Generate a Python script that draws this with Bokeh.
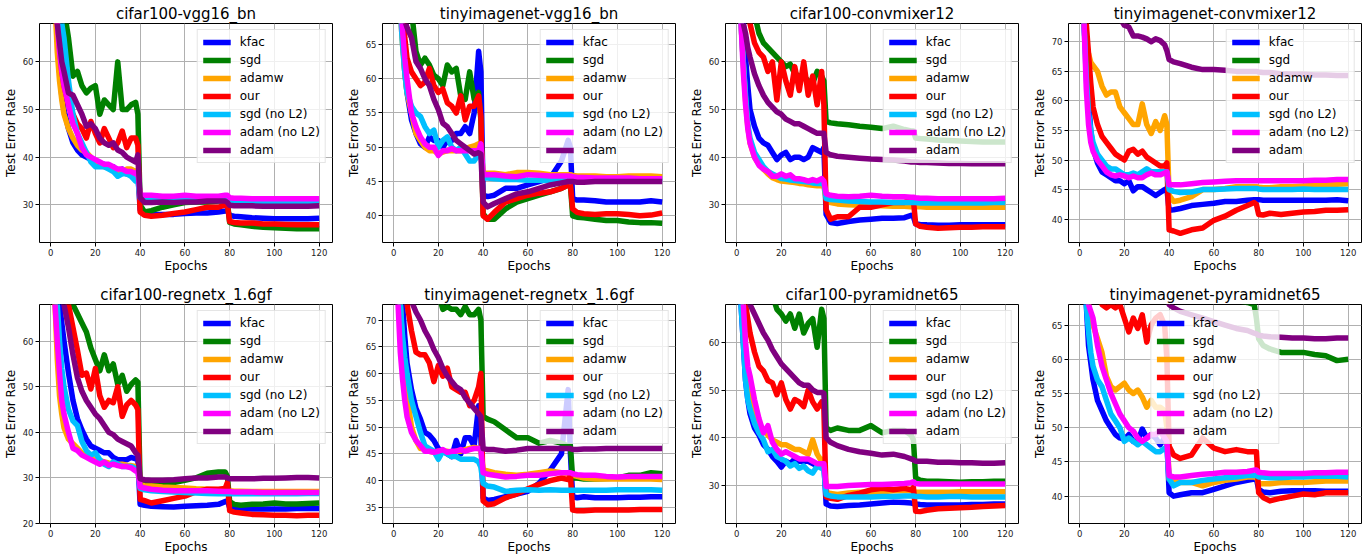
from math import nan
from bokeh.plotting import figure
from bokeh.models import Legend, LegendItem, Title
from bokeh.layouts import row, column
from bokeh.embed import file_html
from bokeh.resources import INLINE

# ---------------- data ----------------
epochs = [1, 2, 3, 4, 5, 6, 8, 10, 12, 14, 16, 18, 20, 22, 24, 26, 28, 30, 32, 34, 36, 38,
          39, 40, 42, 45, 50, 55, 60, 65, 70, 75, 78, 79, 80, 82, 85, 90, 95, 100, 105, 110, 115, 120]
series_names = ["kfac", "sgd", "adamw", "our", "sgd (no L2)", "adam (no L2)", "adam"]
x_ticks = [0, 20, 40, 60, 80, 100, 120]

titles = ["cifar100-vgg16_bn", "tinyimagenet-vgg16_bn", "cifar100-convmixer12", "tinyimagenet-convmixer12",
          "cifar100-regnetx_1.6gf", "tinyimagenet-regnetx_1.6gf", "cifar100-pyramidnet65", "tinyimagenet-pyramidnet65"]
y_ticks_1 = [30, 40, 50, 60]
y_ticks_2 = [40, 45, 50, 55, 60, 65]
y_ticks_3 = [30, 40, 50, 60]
y_ticks_4 = [40, 45, 50, 55, 60, 65, 70]
y_ticks_5 = [20, 30, 40, 50, 60]
y_ticks_6 = [35, 40, 45, 50, 55, 60, 65, 70]
y_ticks_7 = [30, 40, 50, 60]
y_ticks_8 = [40, 45, 50, 55, 60, 65]

# panel 1: cifar100-vgg16_bn
d1_kfac = [88,76,66,58,53,50, 46,43,41.5,40.5,40,39.5,39,38.5,38.5,38,38,37,37.5,36.5,36.5,37, 37,29, 28.3,28,28,28,28.2,28.3,28.3,28.5,28.7,28.8, 27.8,27.6,27.5,27.3,27.2,27.1,27.1,27.1,27.1,27.2]
d1_sgd = [95,90,85,80,75,71, 65,57,58,55,53.5,54.5,55,49,52,51,50,60,50,50,51,51.5, 49,30, 28.5,28.8,29.5,30,30.5,30.6,30.6,30.8,30.8,30.6, 26.3,26,25.8,25.5,25.3,25.2,25.1,25,25,25]
d1_adamw = [85,72,62,56,52,49, 46,44,42.5,41.5,41,40,38.5,38.5,38,38,37.5,37,37,37.5,37.5,37, 37,31.5, 31.2,31,31,31,31,31,31,31,31,31, 30.5,30.5,30.5,30.5,30.5,30.5,30.4,30.4,30.4,30.4]
d1_our = [90,80,70,63,58,55, 51,49,47,46,44,47.5,45,43,46,44,42,43,45.5,42,44,44, 42.5,28.5, 27.8,27.6,27.8,28.2,28.5,29,29.5,29.5,30,30, 26.5,26.3,26.2,26.2,26,26,25.9,25.8,25.8,25.8]
d1_sgdnl2 = [92,85,78,72,68,65, 56,49,45,43,41,39,38,38,38,37.5,37,36,36.5,36.5,36,35, 35,31.5, 31.2,31,31,31,31.2,31.2,31.2,31.2,31.2,31, 30.8,30.8,30.8,30.7,30.7,30.7,30.7,30.7,30.7,30.8]
d1_adamnl2 = [85,75,68,62,58,55, 51,47,45,42,40.5,40,39.5,39,38.5,38.5,38,37.5,37.5,37,37,36.5, 37,32, 32,32,31.8,31.8,32,31.8,31.8,31.8,32,32, 31.5,31.4,31.4,31.3,31.3,31.3,31.3,31.3,31.3,31.3]
d1_adam = [86,76,68,64,60,58, 53.5,53,51,49,46.5,47,46,44,43,42.5,43,41.5,41,40,39.5,39, 40.5,31.5, 30.5,30.5,30.6,30.5,30.6,30.6,30.8,30.8,30.8,30.5, 29.9,29.8,29.8,29.8,29.7,29.7,29.7,29.7,29.7,29.8]

# panel 2: tinyimagenet-vgg16_bn
d2_kfac = [90,80,72,66,61,58, 54,52,50.5,50,51.5,51,51,50,51,51,52,52,53,52,55,64, 61,43, 42.8,43,44,44,44.5,45,45.5,48,51,50, 42.5,42.3,42.3,42.2,42,42,42,42,42.2,42]
d2_sgd = [95,92,88,84,80,76, 70,64,62,63,62,60.5,60,59,62,61,61.5,57.5,57,61,57,58, 54,40.3, 39.5,39.5,41,42,42.5,43,43.5,44,44.5,44.5, 40,39.8,39.7,39.5,39.3,39.3,39.1,39,39,38.9]
d2_adamw = [88,78,70,65,61,58, 55,52,51,50,49.5,49.5,49,49.3,49.5,49.5,49.5,49.5,49.8,50,50.2,50.5, 50.5,46.2, 46.2,46.2,46,46.3,46.3,46.2,46,46,46,46, 45.9,45.8,45.8,45.8,45.7,45.7,45.8,45.8,45.8,45.7]
d2_our = [92,84,76,70,66,63, 61,60,59,59.5,61.5,59,58,58.5,56.5,56,55,57.5,54,56,56,57.5, 54.5,40, 39.5,40.5,42,42.5,43,43.3,43.5,44,44.5,44.5, 41,40.5,40.3,40.2,40.3,40.3,40.2,40,40.1,40.4]
d2_sgdnl2 = [88,78,70,65,61,58, 56,55,54.5,53,52,52.5,50,51,51.5,50,49.5,50,49,48,48,49, 49,45.5, 45.5,45.4,45.3,45.3,45.2,45.2,45.1,45.1,45.1,45, 45.5,45.5,45.5,45.4,45.4,45.4,45.3,45.3,45.3,45.3]
d2_adamnl2 = [89,80,72,67,63,60, 55,53,51.5,50.5,50,50,48.8,49.5,49.5,49.8,49.5,49.5,49.5,49.5,49.5,49.5, 50.5,46, 46,46,45.8,45.7,46,45.9,45.8,45.8,45.8,45.8, 45.7,45.6,45.6,45.5,45.5,45.5,45.5,45.4,45.4,45.4]
d2_adam = [92,85,78,72,68.5,67.5, 66,62.5,61.5,60,59,57,55.5,53.5,53,52,51,50.5,50,49.5,49,49.2, 49,42, 41.3,41.8,42.5,43.2,43.5,44,44.5,44.8,45,45, 45,44.9,44.9,45,45,45,45,45,45,45]

# panel 3: cifar100-convmixer12
d3_kfac = [90,78,68,61,55,50, 46.5,44,43,42.5,41,39.5,40.5,41,39.5,40,40,39.5,40,42,41.5,41, 42,28, 26.3,26.1,26.5,26.8,27,27.2,27.2,27.3,27.8,27.5, 26,25.9,25.8,25.7,25.7,25.8,25.8,25.8,25.8,25.8]
d3_sgd = [95,92,88,84,80,76, 70,66,64,63,62,61,60,59,59.5,57.5,57,57,56,55.5,58,57, 56,47.5, 47.2,47,46.8,46.5,46.3,46,46.5,45.8,45.5,45.5, 44,43.9,43.8,43.6,43.5,43.4,43.3,43.2,43.2,43.2]
d3_adamw = [85,68,60,52,46.5,43, 40,38.5,37.5,36.5,35.7,35.3,35,34.9,34.8,34.7,34.5,34.4,34.2,34.1,34,34, 34,31, 30.5,30.2,30,29.9,29.8,29.8,29.7,29.7,29.6,29.6, 29.6,29.6,29.5,29.5,29.5,29.5,29.5,29.5,29.5,29.5]
d3_our = [95,90,84,78,72,68, 64,62,61,58,60,52,60,56,53,59,54,60,53,57,51,58, 51,29, 27,27.5,27.5,29.5,29.5,30,30.5,30.5,31,31, 26,25.5,25.3,25.1,25.2,25.3,25.3,25.4,25.4,25.4]
d3_sgdnl2 = [85,68,60,53,47,44, 41,39.5,38,37,36.5,36,35.5,35.4,35.2,35.1,35,34.9,34.8,34.6,34.5,34.5, 34.5,31.3, 31.1,31,30.8,30.7,30.6,30.6,30.5,30.5,30.5,30.5, 30.5,30.4,30.4,30.4,30.4,30.4,30.4,30.4,30.5,30.5]
d3_adamnl2 = [85,68,58,51,46,43, 40,38.3,37.5,37,36,36,36.5,36,36.3,35.5,35.5,35.3,35,35.3,35,35.5, 35,32.3, 32,31.8,31.7,31.8,32,31.8,31.7,31.7,31.6,31.6, 31.5,31.4,31.4,31.3,31.3,31.3,31.3,31.3,31.3,31.4]
d3_adam = [88,76,68,66,63,61, 57.5,55,53,51.5,50.5,49.5,49,48,47.5,47,47,46.5,46,45.5,45,45, 45,41, 40.5,40.2,40,39.8,39.6,39.5,39.4,39.2,39,39, 39,38.9,38.9,38.8,38.7,38.7,38.6,38.6,38.6,38.6]

# panel 4: tinyimagenet-convmixer12 (sgd curve is not visible in the plotted range)
d4_kfac = [90,73,66,60,55,52, 49.5,48,47.5,47,46.5,46.5,46,46.5,44.8,45.5,45.5,45,44.5,44,44.5,45, 45.2,41.5, 41.6,41.8,42.3,42.5,42.7,43,43,43.2,43.3,43.3, 43.3,43.2,43.2,43.2,43.2,43.2,43.2,43.2,43.3,43.1]
d4_sgd = [nan] * len(epochs)
d4_adamw = [90,73,70,68,66.5,66, 65,62.5,61,61.5,61.5,59,58,57,56,56,59.5,56,54.5,56.5,55,57.5, 56,44, 43,43.2,43.8,45,45,45.2,45.5,45.5,45.5,45.5, 45.4,45.3,45.3,45.5,45.5,45.6,45.7,45.8,45.9,46]
d4_our = [95,85,73,68,63,59, 56,54,53,52,51,50.5,50,51.5,51.8,51,51.5,50.5,50,49.5,49,49, 49.5,38.2, 38,37.6,38.2,38.5,39.8,40.5,41.5,42.3,42.8,42.5, 40.8,40.7,41,40.8,41,41.2,41.3,41.5,41.5,41.6]
d4_sgdnl2 = [88,73,64,58,55,53, 51,50,49,48.5,48.5,48,47.5,47.5,47.8,47.5,48,48.5,48,48,48,48, 48,45, 44.7,44.5,44.6,45,45,45.1,45.2,45.2,45.2,45.2, 45.1,45,45,45,45,45.1,45,45,45,45]
d4_adamnl2 = [88,73,62,56,53,51.5, 50,49,48,47.5,47.3,47.5,47.3,47,47.3,47,47,47.5,47.8,47.5,47.5,47.8, 48,45.8, 45.8,45.8,46,46.2,46.3,46.4,46.5,46.5,46.5,46.5, 46.5,46.5,46.5,46.5,46.5,46.5,46.6,46.6,46.7,46.7]
d4_adam = [95,92,89,87,85,83.5, 81,79,77.5,76,75,74,72.8,72.5,71,71,70.8,70.5,70,70.5,70.2,69.5, 68.5,67, 66.6,66.3,65.7,65.3,65.3,65.2,65,65,65,65, 64.9,64.8,64.8,64.6,64.5,64.5,64.4,64.4,64.3,64.3]

# panel 5: cifar100-regnetx_1.6gf
d5_kfac = [90,82,74,68,64,60, 53,47,43,40.5,38.5,37,36.5,36,35.5,35.5,34.5,34,34,34,34.5,34.2, 34,24.2, 24,23.8,23.7,23.6,23.8,23.9,24,24.2,24.8,25, 23.5,23.4,23.3,23.2,23.2,23.2,23.2,23.3,23.3,23.3]
d5_sgd = [95,92,88,84,80,76, 72,68,66,64,62,58.5,56,53.5,57,53.5,55,50.5,52.5,49,50.5,51.5, 51,29, 28.5,28.6,28.7,29,29.5,30,31,31.3,31.3,30.3, 24.8,24.2,24,24.2,24.3,24.5,24.3,24.3,24.4,24.5]
d5_adamw = [85,68,56,48,44,41, 38.5,37.5,36.5,35.5,35,34.5,34,33.8,33.5,33.3,33.2,33,33,32.8,32.7,32.5, 32.5,28.5, 28.3,28.2,28,27.9,27.8,27.6,27.5,27.4,27.3,27.3, 27.2,27.1,27.1,27,27,27,27,27,27,27]
d5_our = [95,90,85,80,76,73, 68,63,58,52.5,53,49.5,54,48,45.5,47,46.5,50,43.5,46,47,46, 45,25.3, 25,24.5,25,25.5,26,27,27.5,27.5,27.7,29, 22.8,22.5,22.3,22,21.9,21.8,21.8,21.7,21.8,21.8]
d5_sgdnl2 = [88,76,68,60,54,50, 45,42.5,41.5,38,36,35,35.5,34,33,32.5,33.5,33,32.5,32.5,32.5,32, 32,27.7, 27.4,27.2,27,26.9,26.8,26.7,26.6,26.5,26.5,26.5, 26.5,26.5,26.5,26.5,26.5,26.5,26.5,26.5,26.6,26.6]
d5_adamnl2 = [85,68,60,53,47,44, 40,36.5,36,35,34.5,34,33.5,33,33.5,32.8,33,32.7,32.5,32.5,32.2,31.5, 31.5,28, 27.8,27.5,27.3,27.2,27.2,27.2,27.2,27.1,27,27, 27,26.9,26.9,26.9,26.8,26.8,26.8,26.8,26.8,26.8]
d5_adam = [92,85,80,76,72,68, 63,57,52,49,47,45.5,44,43,41.5,40,39.5,38.5,38,37.5,37,35.5, 35,29.8, 29.6,29.5,29.5,29.6,29.8,30,30,30.2,30.2,30, 29.8,29.8,29.8,29.8,29.9,29.9,30,30.1,30.1,30]

# panel 6: tinyimagenet-regnetx_1.6gf
d6_kfac = [95,88,80,73,67,62, 57,53.5,51.5,49,48.5,47.5,46,45.5,45,44.5,47.5,45,48,48,46.5,54, 48,36.8, 36.3,36.5,37,37.5,38,39.5,42,45,57,45, 37,36.8,37,36.8,36.8,36.8,36.9,36.9,37,37]
d6_sgd = [98,97,96,95,94,93, 91,89,87,85,82,79,75,72,72.5,72,72,71,72.5,71,71,72, 70,52, 51.5,51,49.5,48,48,47,47.5,47,46.5,46.5, 40.5,40.5,40.3,40.3,40.4,40.5,41,41,41.5,41.3]
d6_adamw = [92,82,73,65,60,56, 50,47.5,46,46,45.5,45.3,45.5,45.5,45.5,45,45.5,45.5,45.8,46,46.2,46, 46,42, 41.8,41.5,41.2,41,41.2,41.5,41.8,41.5,41.3,41.2, 41,40.8,40.5,40.3,40.3,40.3,40.3,40.3,40.3,40.2]
d6_our = [98,92,86,81,77,73, 68,64,63.5,63.5,62,58.5,61.5,59.5,61,57.5,57,56.5,56.5,54,55,57.5, 60,36.2, 35.5,35.7,36.8,37.5,38.5,39.3,40,40.5,40.2,41, 34.5,34.4,34.4,34.5,34.5,34.5,34.5,34.6,34.6,34.6]
d6_sgdnl2 = [92,82,73,67,63,60, 55,52,49,46.5,46,45.5,44,45.5,45,44.5,44.5,44,44,44,44,43.5, 42.5,39.5, 39,38.8,38,38.2,38.3,38.2,38.3,38.2,38.2,38.2, 38.2,38.2,38.2,38.2,38.2,38.3,38.3,38.3,38.3,38.2]
d6_adamnl2 = [88,73,64,59,55,52, 49,47.5,46.5,45.5,45.5,45.3,45.5,45.8,45.3,45.5,45.5,45.8,45.5,45.8,46,46, 46,41.5, 41.2,41,40.7,40.8,41,41,41.3,41.5,41.5,41.5, 41.3,41.1,41,41,40.8,40.7,40.8,40.8,40.8,40.8]
d6_adam = [98,93,88,84,80,77, 73.5,71.5,70,68,66.5,64.5,63,61,59.5,58.5,57.5,57,55.5,54.5,53.5,52.5, 52,46, 45.8,45.8,45.5,45.7,46,46,46,46,46,46, 45.8,45.8,45.9,45.9,46,46,46,46,46,46]

# panel 7: cifar100-pyramidnet65
d7_kfac = [85,68,60,52,48,45, 42,40.5,38.5,37.5,36,35,33.8,35,34.5,35.5,35,35,35,34.5,34,34.5, 34.5,26, 25.6,25.5,25.7,25.8,26,26.2,26.4,26.3,26.2,26.1, 26,25.9,25.8,25.8,25.8,25.8,25.9,25.9,26,26]
d7_sgd = [98,96,94,92,90,88, 84,80,76,73,70,67,66,64.5,66,63,66,62,64,65,59,67, 65,42, 41.5,42,41.5,41.5,42.5,41,41.5,41.5,40.5,39.5, 31.5,31,30.8,30.8,30.7,30.6,30.7,30.7,30.8,30.8]
d7_adamw = [88,75,68,58,52,48, 45,43,41.5,40.5,39.5,39,38.5,38.5,38,37.5,37.5,37,36.5,39.5,36.5,35, 35.5,28.5, 28.2,28,28.3,28.5,28.5,28.6,28.8,28.8,28.8,28.7, 28.5,28.5,28.5,28.5,28.5,28.6,28.6,28.6,28.6,28.6]
d7_our = [95,85,75,68,65,62, 58,55,54,52,51.5,49,51.5,48,46,48,47.5,46.5,50,47.5,46,47.5, 46,27.5, 27.2,27,27.8,28.3,29,29.3,29,29.3,29,29.5, 24.5,24.4,24.7,25,25.1,25.2,25.3,25.5,25.6,25.7]
d7_sgdnl2 = [85,68,60,52,48,46, 43,41,39.5,37,37.5,36,35.5,35,34,34.5,33.5,34,33,32.5,34,33.5, 33.5,28, 27.7,27.5,27.5,27.5,27.5,27.6,27.6,27.7,27.7,27.7, 27.6,27.6,27.5,27.5,27.6,27.6,27.5,27.5,27.5,27.5]
d7_adamnl2 = [90,78,68,60,55,53, 48,44,41,42.5,39,37.5,36.5,37,36.5,36,35.5,35.5,35.5,35,34.5,34.5, 34.5,29.7, 29.7,29.7,29.9,30,30.1,30.1,30.2,30.3,30.5,30.7, 30.3,30.2,30.2,30.2,30.2,30.2,30.2,30.2,30.2,30.2]
d7_adam = [95,88,80,75,71,68, 66,64,62,60.5,58.5,57,55.5,54.5,53.5,52.5,51.5,51,51,50,49.5,49.5, 49.3,40, 39,38.3,37.5,37,36.7,36.3,36.5,36,35.5,35.3, 35,35,35,34.8,34.8,34.7,34.7,34.6,34.6,34.7]

# panel 8: tinyimagenet-pyramidnet65
d8_kfac = [90,78,68,62,59.5,57, 54,52.5,51,50,49,48.5,48.3,49,48,48,49.8,48.5,49,48.5,47.5,48.5, 48.5,40.5, 40,40.2,40.5,40.5,41,41.5,42,42.3,42.5,42.5, 41,40.6,40.5,40.7,40.8,40.8,40.8,40.7,40.7,40.7]
d8_sgd = [99,98.5,98,97,96,95, 93,91,89,87,85,83,81,80,79,78,77,76,75.5,75,74.5,74, 74,71, 70.5,70,69.5,69.2,69,68.8,68.6,68.3,68,66, 63,62,61.5,61,61,61,60.7,60.5,59.8,60]
d8_adamw = [90,80,72,68,66,65, 63,61,57.5,56,55.5,56,56.5,55.5,55,55.5,54.5,53,54,53,53,52.5, 50,42.5, 42.2,42,42,41.5,42,42.3,42.5,42.8,42.8,42.8, 41.8,41.8,41.8,42,42,42,42.1,42.2,42.2,42.2]
d8_our = [99,97,94,90,86,82, 74,68,67.5,68,67.5,68,66,64,66,64.5,66.5,62.5,65,66,66.5,65, 60,47.3, 46,45.5,46,48.5,47,46.5,46.8,46.5,46.5,46.5, 40.5,39.8,39.3,39.7,40,40.3,40.2,40.5,40.5,40.5]
d8_sgdnl2 = [88,76,68,64,61,59, 57,56,54,52,51,50,48,48.5,48,47.5,48,47.5,47,46.5,46.5,47, 47,42.5, 41.5,42,42,42.3,42.5,42.7,42.8,43,43,43, 42.8,42.8,42.7,42.7,42.8,42.8,42.9,42.9,42.9,42.8]
d8_adamnl2 = [92,82,74,68,67,66, 62,59,57,55,53.5,52,51,50,49.5,48.5,48,48.5,49,49,49.5,48.5, 48,43, 42.8,42.8,43,43.2,43.3,43.5,43.5,43.6,43.8,43.8, 43.5,43.4,43.3,43.3,43.3,43.3,43.4,43.4,43.5,43.5]
d8_adam = [99,98,97,96,95,94, 92,90,88,86,84,82,80,78.5,77,76,75,74,73,72,71,70, 69.5,68, 67.5,67,66.5,66,65.5,65,64.5,64.2,63.8,63.7, 63.5,63.4,63.3,63.2,63.1,63.1,63,63,63.1,63.1]

# ---------------- assembly ----------------
panel_series = [
    [d1_kfac, d1_sgd, d1_adamw, d1_our, d1_sgdnl2, d1_adamnl2, d1_adam],
    [d2_kfac, d2_sgd, d2_adamw, d2_our, d2_sgdnl2, d2_adamnl2, d2_adam],
    [d3_kfac, d3_sgd, d3_adamw, d3_our, d3_sgdnl2, d3_adamnl2, d3_adam],
    [d4_kfac, d4_sgd, d4_adamw, d4_our, d4_sgdnl2, d4_adamnl2, d4_adam],
    [d5_kfac, d5_sgd, d5_adamw, d5_our, d5_sgdnl2, d5_adamnl2, d5_adam],
    [d6_kfac, d6_sgd, d6_adamw, d6_our, d6_sgdnl2, d6_adamnl2, d6_adam],
    [d7_kfac, d7_sgd, d7_adamw, d7_our, d7_sgdnl2, d7_adamnl2, d7_adam],
    [d8_kfac, d8_sgd, d8_adamw, d8_our, d8_sgdnl2, d8_adamnl2, d8_adam],
]
for ps in panel_series:
    for s in ps:
        assert len(s) == len(epochs), len(s)

y_tick_sets = [y_ticks_1, y_ticks_2, y_ticks_3, y_ticks_4, y_ticks_5, y_ticks_6, y_ticks_7, y_ticks_8]
y_ranges = [(22.1, 68.05), (36.1, 68.06), (22.1, 68.05), (36.05, 73.1),
            (20.0, 68.04), (32.0, 72.9), (21.9, 68.0), (36.0, 68.0)]
legend_locs = ["top_right"] * 7 + ["top_center"]
colors = ["blue", "green", "orange", "red", "deepskyblue", "magenta", "purple"]

FONT = "DejaVu Sans"
FW, FH = 293, 219


def make_panel(i):
    col, rw = i % 4, i // 4
    p = figure(frame_width=FW, frame_height=FH,
               x_range=(-4.95, 125.95), y_range=y_ranges[i],
               min_border_left=39, min_border_right=(11 if col < 3 else 9),
               min_border_top=23,
               min_border_bottom=(39 if rw == 0 else 31),
               output_backend="svg", toolbar_location=None, tools="")
    p.title = Title(text=titles[i], align="center", text_font=FONT, text_font_size="15px",
                    text_font_style="normal", text_color="black", standoff=2, offset=0)
    p.outline_line_color = "black"
    p.outline_line_alpha = 1
    p.outline_line_width = 1
    p.grid.grid_line_color = "#b0b0b0"
    p.grid.grid_line_width = 1
    p.xaxis.ticker = x_ticks
    p.yaxis.ticker = y_tick_sets[i]
    for ax in (p.xaxis[0], p.yaxis[0]):
        ax.axis_line_color = None
        ax.major_tick_in = 0
        ax.major_tick_out = 4
        ax.major_tick_line_color = "black"
        ax.minor_tick_line_color = None
        ax.major_label_text_font = FONT
        ax.major_label_text_font_size = "8.5px"
        ax.major_label_text_color = "#222222"
        ax.axis_label_text_font = FONT
        ax.axis_label_text_font_size = "12px"
        ax.axis_label_text_font_style = "normal"
        ax.axis_label_text_color = "black"
    p.xaxis.axis_label = "Epochs"
    p.yaxis.axis_label = "Test Error Rate"
    p.xaxis.major_label_standoff = 2
    p.xaxis.axis_label_standoff = 0
    p.yaxis.major_label_standoff = 2
    p.yaxis.axis_label_standoff = 2

    items = []
    for name, ys, c in zip(series_names, panel_series[i], colors):
        r = p.line(epochs, ys, line_color=c, line_width=5.5, line_join="round")
        items.append(LegendItem(label=name, renderers=[r]))
    leg = Legend(items=items, location=legend_locs[i],
                 label_text_font=FONT, label_text_font_size="12px", label_text_color="black",
                 glyph_width=28, glyph_height=14, label_height=14, label_standoff=9,
                 spacing=4, padding=5, margin=6,
                 border_line_color="#cccccc", border_line_width=1,
                 background_fill_color="white", background_fill_alpha=0.8)
    p.add_layout(leg)
    return p


panels = [make_panel(i) for i in range(8)]
layout = column(row(*panels[:4]), row(*panels[4:]))
open("out.html", "w").write(file_html(layout, INLINE))
